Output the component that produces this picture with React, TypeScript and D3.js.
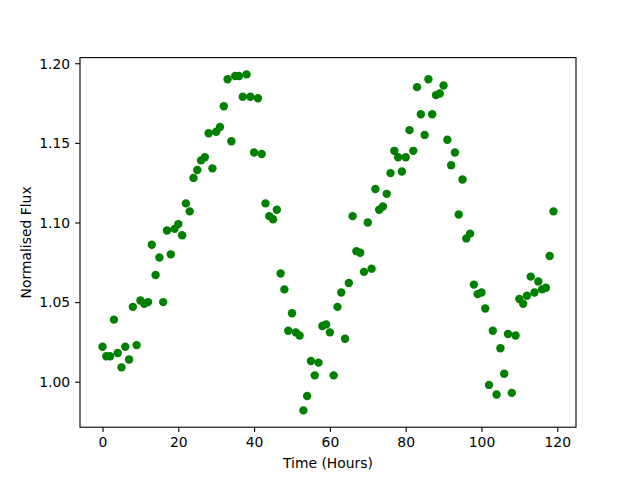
import React, { useEffect, useRef } from "react";
import * as d3 from "d3";

// hourly samples, 0..119
const hours: number[] = d3.range(0, 120);

const flux: number[] = [
  1.022, 1.016, 1.016, 1.039, 1.018, 1.009, 1.022, 1.014, 1.047, 1.023,
  1.051, 1.049, 1.05, 1.086, 1.067, 1.078, 1.05, 1.095, 1.08, 1.096,
  1.099, 1.092, 1.112, 1.107, 1.128, 1.133, 1.139, 1.141, 1.156, 1.134,
  1.157, 1.16, 1.173, 1.19, 1.151, 1.192, 1.192, 1.179, 1.193, 1.179,
  1.144, 1.178, 1.143, 1.112, 1.104, 1.102, 1.108, 1.068, 1.058, 1.032,
  1.043, 1.031, 1.029, 0.982, 0.991, 1.013, 1.004, 1.012, 1.035, 1.036,
  1.031, 1.004, 1.047, 1.056, 1.027, 1.062, 1.104, 1.082, 1.081, 1.069,
  1.1, 1.071, 1.121, 1.108, 1.11, 1.118, 1.131, 1.145, 1.141, 1.132,
  1.141, 1.158, 1.145, 1.185, 1.168, 1.155, 1.19, 1.168, 1.18, 1.181,
  1.186, 1.152, 1.136, 1.144, 1.105, 1.127, 1.09, 1.093, 1.061, 1.055,
  1.056, 1.046, 0.998, 1.032, 0.992, 1.021, 1.005, 1.03, 0.993, 1.029,
  1.052, 1.049, 1.054, 1.066, 1.056, 1.063, 1.058, 1.059, 1.079, 1.107,
];

const xTicks: number[] = [0, 20, 40, 60, 80, 100, 120];
const yTicks: number[] = [1.0, 1.05, 1.1, 1.15, 1.2];

const width = 640;
const height = 480;
const margin = { left: 80, right: 64, top: 57.6, bottom: 52.8 };
const font = "'DejaVu Sans', sans-serif";

function padded(values: number[]): [number, number] {
  const [lo, hi] = d3.extent(values) as [number, number];
  const pad = (hi - lo) * 0.05;
  return [lo - pad, hi + pad];
}

export default function App() {
  const ref = useRef<SVGSVGElement>(null);

  useEffect(() => {
    const svg = d3.select(ref.current);
    svg.selectAll("*").remove();

    const x = d3
      .scaleLinear()
      .domain(padded(hours))
      .range([margin.left, width - margin.right]);
    const y = d3
      .scaleLinear()
      .domain(padded(flux))
      .range([height - margin.bottom, margin.top]);

    svg
      .append("rect")
      .attr("width", width)
      .attr("height", height)
      .attr("fill", "white");

    svg
      .append("g")
      .selectAll("circle")
      .data(hours)
      .enter()
      .append("circle")
      .attr("cx", (d) => x(d))
      .attr("cy", (d, i) => y(flux[i]))
      .attr("r", 4.2)
      .attr("fill", "green");

    const xAxis = d3
      .axisBottom(x)
      .tickValues(xTicks)
      .tickFormat(d3.format("d"))
      .tickSize(4.9)
      .tickSizeOuter(0)
      .tickPadding(4.9);
    const yAxis = d3
      .axisLeft(y)
      .tickValues(yTicks)
      .tickFormat(d3.format(".2f"))
      .tickSize(4.9)
      .tickSizeOuter(0)
      .tickPadding(4.9);

    const gx = svg
      .append("g")
      .attr("transform", `translate(0, ${height - margin.bottom})`)
      .call(xAxis);
    const gy = svg
      .append("g")
      .attr("transform", `translate(${margin.left}, 0)`)
      .call(yAxis);

    [gx, gy].forEach((g) => {
      g.select(".domain").remove();
      g.selectAll("line").attr("stroke", "black").attr("stroke-width", 1.1);
      g.selectAll("text")
        .attr("fill", "black")
        .style("font-family", font)
        .style("font-size", "13.9px");
    });
    gy.selectAll("text").attr("dy", "0.35em");

    // frame
    svg
      .append("rect")
      .attr("x", margin.left)
      .attr("y", margin.top)
      .attr("width", width - margin.left - margin.right)
      .attr("height", height - margin.top - margin.bottom)
      .attr("fill", "none")
      .attr("stroke", "black")
      .attr("stroke-width", 1.1);

    svg
      .append("text")
      .attr("x", (margin.left + width - margin.right) / 2)
      .attr("y", 468)
      .attr("text-anchor", "middle")
      .style("font-family", font)
      .style("font-size", "13.9px")
      .text("Time (Hours)");

    svg
      .append("text")
      .attr(
        "transform",
        `translate(31, ${(margin.top + height - margin.bottom) / 2}) rotate(-90)`
      )
      .attr("text-anchor", "middle")
      .style("font-family", font)
      .style("font-size", "13.9px")
      .text("Normalised Flux");
  }, []);

  return (
    <svg
      ref={ref}
      width={width}
      height={height}
      style={{ position: "absolute", left: 0, top: 0 }}
    ></svg>
  );
}
